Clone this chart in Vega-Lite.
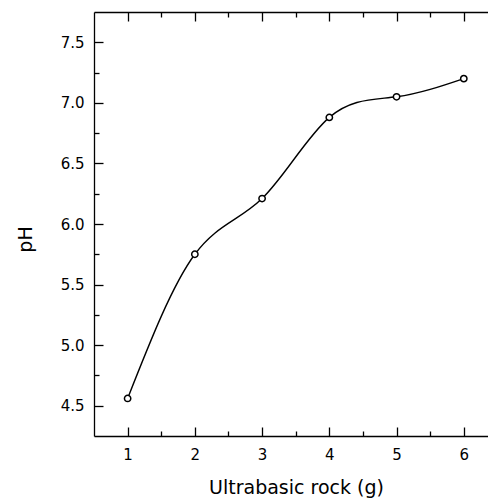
{
  "$schema": "https://vega.github.io/schema/vega-lite/v6.json",
  "width": 394,
  "height": 424,
  "autosize": {"type": "none"},
  "padding": {"left": 94, "top": 12, "right": 0, "bottom": 65},
  "background": "white",
  "config": {
    "view": {"stroke": null},
    "font": "DejaVu Sans",
    "axis": {
      "domainColor": "black",
      "domainWidth": 1.3,
      "tickColor": "black",
      "tickWidth": 1.3,
      "labelColor": "black",
      "titleColor": "black",
      "labelFont": "DejaVu Sans",
      "titleFont": "DejaVu Sans",
      "labelFontSize": 15,
      "titleFontSize": 19,
      "titleFontWeight": "normal",
      "grid": false
    }
  },
  "data": {
    "values": [
      {"rock": 1, "pH": 4.56},
      {"rock": 2, "pH": 5.75},
      {"rock": 3, "pH": 6.21},
      {"rock": 4, "pH": 6.88},
      {"rock": 5, "pH": 7.05},
      {"rock": 6, "pH": 7.2}
    ]
  },
  "layer": [
    {
      "mark": {"type": "line", "interpolate": "natural", "color": "black", "strokeWidth": 1.4},
      "encoding": {
        "x": {
          "field": "rock", "type": "quantitative",
          "scale": {"domain": [0.5, 6.36], "nice": false, "zero": false},
          "axis": {
            "orient": "bottom",
            "title": "Ultrabasic rock (g)",
            "values": [1, 2, 3, 4, 5, 6],
            "format": "d",
            "ticks": false,
            "labelPadding": 11,
            "titleX": 202,
            "titleY": 57,
            "titleAnchor": null,
            "titleAlign": "center",
            "titleBaseline": "alphabetic"
          }
        },
        "y": {
          "field": "pH", "type": "quantitative",
          "scale": {"domain": [4.25, 7.75], "nice": false, "zero": false},
          "axis": {
            "orient": "left",
            "title": "pH",
            "values": [4.5, 5, 5.5, 6, 6.5, 7, 7.5],
            "format": ".1f",
            "ticks": false,
            "labelPadding": 10,
            "titleX": -69,
            "titleY": 227,
            "titleAngle": 270,
            "titleAlign": "center",
            "titleBaseline": "middle"
          }
        }
      }
    },
    {
      "mark": {"type": "point", "shape": "circle", "filled": true, "fill": "white", "stroke": "black", "strokeWidth": 1.5, "size": 40, "opacity": 1},
      "encoding": {
        "x": {
          "field": "rock", "type": "quantitative",
          "axis": {
            "orient": "bottom",
            "title": null,
            "labels": false,
            "domain": false,
            "values": [1, 2, 3, 4, 5, 6],
            "offset": -9,
            "tickSize": 9
          }
        },
        "y": {
          "field": "pH", "type": "quantitative",
          "axis": {
            "orient": "left",
            "title": null,
            "labels": false,
            "domain": false,
            "values": [4.5, 5, 5.5, 6, 6.5, 7, 7.5],
            "offset": -9,
            "tickSize": 9
          }
        }
      }
    },
    {
      "mark": {"type": "point", "opacity": 0},
      "encoding": {
        "x": {
          "field": "rock", "type": "quantitative",
          "axis": {
            "orient": "bottom",
            "title": null,
            "labels": false,
            "domain": false,
            "values": [1.5, 2.5, 3.5, 4.5, 5.5],
            "offset": -5,
            "tickSize": 5
          }
        },
        "y": {
          "field": "pH", "type": "quantitative",
          "axis": {
            "orient": "left",
            "title": null,
            "labels": false,
            "domain": false,
            "values": [4.75, 5.25, 5.75, 6.25, 6.75, 7.25],
            "offset": -5,
            "tickSize": 5
          }
        }
      }
    },
    {
      "mark": {"type": "point", "opacity": 0},
      "encoding": {
        "x": {
          "field": "rock", "type": "quantitative",
          "axis": {
            "orient": "top",
            "title": null,
            "labels": false,
            "domain": true,
            "ticks": false
          }
        },
        "y": {"field": "pH", "type": "quantitative", "axis": null}
      }
    },
    {
      "mark": {"type": "point", "opacity": 0},
      "encoding": {
        "x": {
          "field": "rock", "type": "quantitative",
          "axis": {
            "orient": "top",
            "title": null,
            "labels": false,
            "domain": false,
            "values": [1, 2, 3, 4, 5, 6],
            "offset": -9,
            "tickSize": 9
          }
        },
        "y": {"field": "pH", "type": "quantitative", "axis": null}
      }
    },
    {
      "mark": {"type": "point", "opacity": 0},
      "encoding": {
        "x": {
          "field": "rock", "type": "quantitative",
          "axis": {
            "orient": "top",
            "title": null,
            "labels": false,
            "domain": false,
            "values": [1.5, 2.5, 3.5, 4.5, 5.5],
            "offset": -5,
            "tickSize": 5
          }
        },
        "y": {"field": "pH", "type": "quantitative", "axis": null}
      }
    }
  ],
  "resolve": {"axis": {"x": "independent", "y": "independent"}}
}
